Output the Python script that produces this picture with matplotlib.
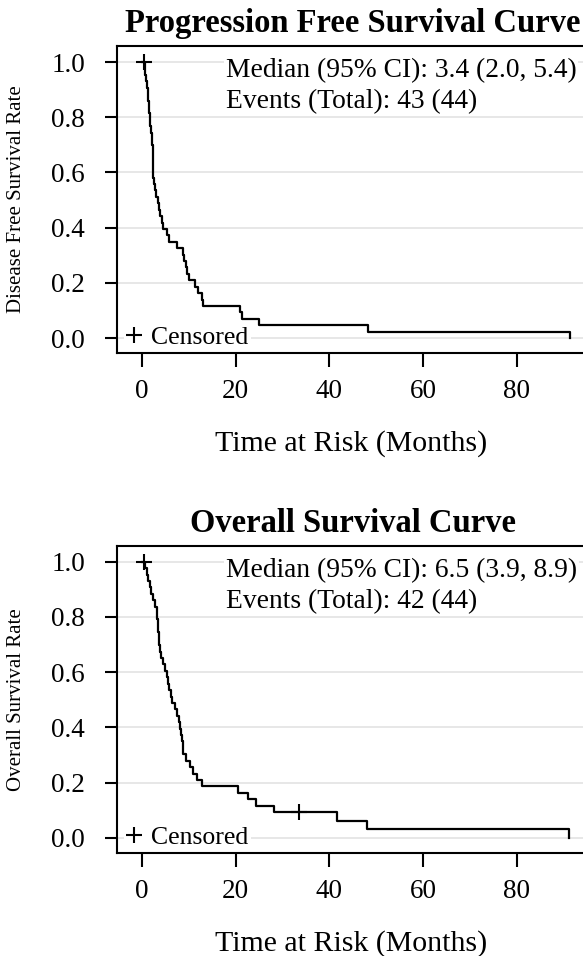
import numpy as np
import matplotlib.pyplot as plt
from matplotlib.lines import Line2D

plt.rcParams['font.family'] = ['Liberation Serif', 'DejaVu Serif']

W, H = 583, 956

# progression free survival: event / censor times in months
pfs_events = [0.6, 0.8, 1.0, 1.2, 1.3, 1.4, 1.5, 1.6, 1.7, 1.8,
              2.0, 2.1, 2.2, 2.3, 2.35, 2.4, 2.45, 2.5, 2.7, 2.8,
              3.0, 3.4, 3.6, 3.9, 4.3, 4.6, 5.4, 5.8, 7.5, 8.9,
              9.1, 9.4, 9.7, 10.0, 11.3, 12.0, 12.8, 13.1, 21.0, 21.4,
              25.1, 48.3, 91.3]
pfs_censored = [0.55]

# overall survival
os_events = [0.8, 1.1, 1.4, 1.7, 2.0, 2.4, 2.8, 3.2, 3.3, 3.4,
             3.5, 3.6, 3.7, 3.8, 4.2, 4.6, 5.0, 5.3, 5.6, 5.9,
             6.2, 6.5, 7.0, 7.6, 8.0, 8.2, 8.4, 8.5, 8.7, 8.9,
             9.5, 10.3, 11.0, 11.8, 12.8, 20.6, 22.7, 24.3, 28.1, 41.6,
             48.0, 91.2]
os_censored = [0.5, 33.6]

panels = [
    dict(events=pfs_events, censored=pfs_censored,
         title='Progression Free Survival Curve',
         ylabel='Disease Free Survival Rate',
         info='Median (95% CI): 3.4 (2.0, 5.4)\nEvents (Total): 43 (44)'),
    dict(events=os_events, censored=os_censored,
         title='Overall Survival Curve',
         ylabel='Overall Survival Rate',
         info='Median (95% CI): 6.5 (3.9, 8.9)\nEvents (Total): 42 (44)'),
]

xticks = [0, 20, 40, 60, 80]
yticks = [0.0, 0.2, 0.4, 0.6, 0.8, 1.0]


def km(events, censored):
    ev = np.array(events)
    ce = np.array(censored)
    times = np.unique(np.concatenate([ev, ce]))
    n = len(ev) + len(ce)
    s = 1.0
    xs, ys = [0.0], [1.0]
    cx, cy = [], []
    for t in times:
        d = np.sum(ev == t)
        c = np.sum(ce == t)
        if d:
            s *= 1 - d / n
            xs.append(t)
            ys.append(s)
        if c:
            cx.append(t)
            cy.append(s)
        n -= d + c
    return np.array(xs), np.array(ys), cx, cy


fig = plt.figure(figsize=(W / 100, H / 100), dpi=100)

for i, p in enumerate(panels):
    off = i * 499.7
    left, right = 117, 589
    top, bottom = 46 + off, 353 + off
    ax = fig.add_axes([left / W, 1 - bottom / H, (right - left) / W, (bottom - top) / H])

    xs, ys, cx, cy = km(p['events'], p['censored'])
    for y in yticks:
        ax.axhline(y, color='#e3e3e3', lw=1.2, zorder=0)
    ax.plot(xs, ys, drawstyle='steps-post', color='black', lw=1.6, zorder=2)
    ax.plot(cx, cy, ls='none', marker='+', ms=12, mew=1.5, color='black', zorder=3)

    ax.set_xlim(-5.27, 95.37)
    ax.set_ylim(-0.054, 1.058)
    ax.set_xticks(xticks)
    ax.set_yticks(yticks)
    ax.set_yticklabels([f'{v:.1f}' for v in yticks])
    ax.tick_params(axis='x', length=10, width=1.5, pad=9, labelsize=19.5)
    ax.tick_params(axis='y', length=9, width=1.5, pad=14, labelsize=19.5)
    for sp in ax.spines.values():
        sp.set_linewidth(1.5)
        sp.set_zorder(3)
    ax.spines['right'].set_visible(False)

    ax.text(0.231, 0.798, p['info'], transform=ax.transAxes, fontsize=19.8,
            va='baseline', ha='left', linespacing=1.3, zorder=2.2,
            bbox=dict(boxstyle='square,pad=0.06', facecolor='white', edgecolor='none'))

    h = Line2D([], [], ls='none', marker='+', ms=12, mew=1.5, color='black')
    leg = ax.legend([h], ['Censored'], loc='lower left', fontsize=18.5,
                    bbox_to_anchor=(0.012, 0.0),
                    frameon=True, fancybox=False, framealpha=1, edgecolor='none',
                    borderaxespad=0.05, borderpad=0.1, handlelength=0.6,
                    handletextpad=0.35)
    leg.set_zorder(2.2)

    fig.text(353 / W, 1 - (32 + off) / H, p['title'], fontsize=23.5, fontweight='bold',
             ha='center', va='baseline')
    fig.text(351.5 / W, 1 - (451 + off) / H, 'Time at Risk (Months)', fontsize=21.5,
             ha='center', va='baseline')
    fig.text(16.5 / W, 1 - (199.5 + off) / H, p['ylabel'], fontsize=15, rotation=90,
             ha='center', va='center')

fig.savefig('out.png', dpi=100)
